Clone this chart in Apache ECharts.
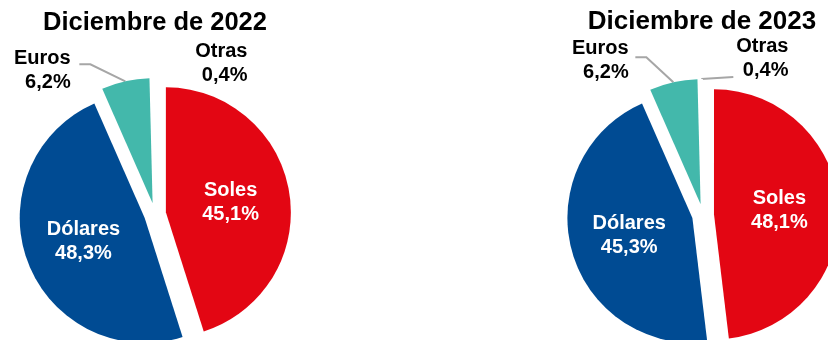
<!DOCTYPE html>
<html>
<head>
<meta charset="utf-8">
<script src="https://cdn.jsdelivr.net/npm/echarts@6/dist/echarts.min.js"></script>
<style>
  html, body { margin: 0; padding: 0; background: #fff; }
  #chart { width: 828px; height: 340px; }
</style>
</head>
<body>
<div id="chart"></div>
<script>
var categories = ['Soles', 'Dólares', 'Euros', 'Otras']
var values2022 = [45.1, 48.3, 6.2, 0.4]
var values2023 = [48.1, 45.3, 6.2, 0.4]
var titles = ['Diciembre de 2022', 'Diciembre de 2023']

var colors = ['#e30613', '#004b93', '#43b8ab', '#ffffff']
var fontFamily = '"Liberation Sans", Arial, sans-serif'

function pct(v) {
  return v.toFixed(1).replace('.', ',') + '%'
}

function buildData(values, hideOtrasLine) {
  return categories.map(function (name, i) {
    var inside = i < 2
    var item = {
      name: name,
      value: values[i],
      selected: true,
      itemStyle: { color: colors[i] },
      label: {
        position: inside ? 'inside' : 'outside',
        color: inside ? '#ffffff' : '#000000'
      },
      labelLine: { show: !inside }
    }
    if (i === 3 && hideOtrasLine) {
      item.labelLine = { show: true, lineStyle: { opacity: 0 } }
    }
    return item
  })
}

// offsets from the start of the leader line: [labelDx, labelDy, bendDx, bendDy, endDx, endDy]
function makeLayout(offsets) {
  return function (p) {
    var o = offsets[p.dataIndex]
    if (!o || !p.labelLinePoints) return {}
    var s = p.labelLinePoints[0]
    var pts = [s]
    if (o[2] != null) pts.push([s[0] + o[2], s[1] + o[3]])
    pts.push([s[0] + o[4], s[1] + o[5]])
    var r = p.labelRect
    return {
      dx: s[0] + o[0] - (r.x + r.width / 2),
      dy: s[1] + o[1] - (r.y + r.height / 2),
      labelLinePoints: pts
    }
  }
}

function pieSeries(values, center, offsets, hideOtrasLine) {
  return {
    type: 'pie',
    radius: 125,
    center: center,
    startAngle: 90,
    clockwise: true,
    selectedMode: 'multiple',
    selectedOffset: 11,
    avoidLabelOverlap: false,
    silent: true,
    animation: false,
    emphasis: { disabled: true },
    select: { itemStyle: { borderWidth: 0 } },
    data: buildData(values, hideOtrasLine),
    label: {
      formatter: function (p) { return p.name + '\n' + pct(p.value) },
      fontFamily: fontFamily,
      fontWeight: 'bold',
      fontSize: 20,
      lineHeight: 24,
      align: 'center',
      overflow: 'none'
    },
    labelLine: {
      length: 10,
      length2: 10,
      lineStyle: { color: '#a6a6a6', width: 2 }
    },
    labelLayout: makeLayout(offsets)
  }
}

var myChart = echarts.init(document.getElementById('chart'))
var option = {
  backgroundColor: '#ffffff',
  animation: false,
  title: [
    {
      text: titles[0], left: 150, top: 5, textAlign: 'center',
      textStyle: { fontFamily: fontFamily, fontWeight: 'bold', fontSize: 25.5, color: '#000' }
    },
    {
      text: titles[1], left: 697, top: 4, textAlign: 'center',
      textStyle: { fontFamily: fontFamily, fontWeight: 'bold', fontSize: 26, color: '#000' }
    }
  ],
  series: [
    pieSeries(values2022, [155, 214], {
      2: [-83, -11, -35, -17, -46, -17],
      3: [68, -15, null, null, 2, 0]
    }, true),
    pieSeries(values2023, [703, 215], {
      2: [-73, -22, -27, -25, -38, -25],
      3: [61, -21, null, null, 32, -2]
    }, false)
  ]
}
myChart.setOption(option)
</script>
</body>
</html>
